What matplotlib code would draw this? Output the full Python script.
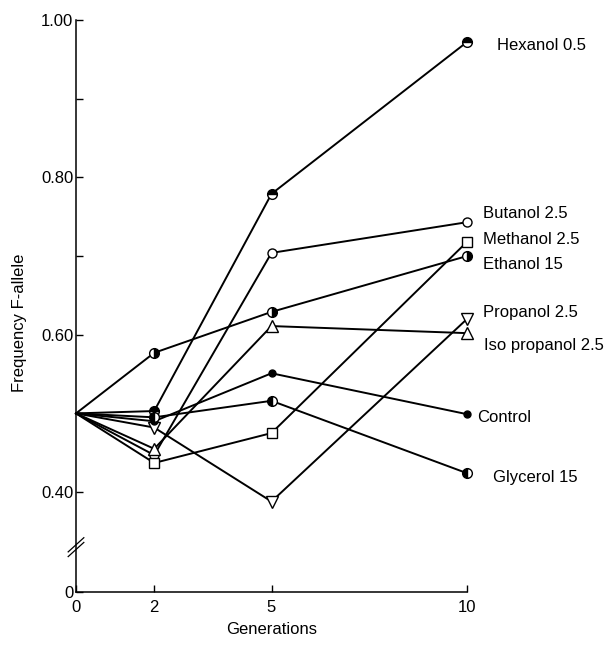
import matplotlib.pyplot as plt

plt.rcParams['font.family'] = ['Liberation Sans', 'DejaVu Sans']

generations = [0, 2, 5, 10]

hexanol = [0.50, 0.503, 0.779, 0.972]
butanol = [0.50, 0.447, 0.704, 0.743]
methanol = [0.50, 0.437, 0.475, 0.718]
ethanol = [0.50, 0.577, 0.629, 0.700]
propanol = [0.50, 0.482, 0.388, 0.620]
isopropanol = [0.50, 0.455, 0.611, 0.602]
control = [0.50, 0.490, 0.551, 0.499]
glycerol = [0.50, 0.495, 0.516, 0.424]

labels = ['Hexanol 0.5', 'Butanol 2.5', 'Methanol 2.5', 'Ethanol 15',
          'Propanol 2.5', 'Iso propanol 2.5', 'Control', 'Glycerol 15']

# marker, size, fillstyle, label offset in pixels
styles = [
    ('o', 7.0, 'top', (30, -3)),
    ('o', 6.5, 'none', (16, 9)),
    ('s', 6.5, 'none', (16, 2)),
    ('o', 7.0, 'right', (16, -8)),
    ('v', 8.0, 'none', (16, 6)),
    ('^', 8.0, 'none', (17, -12)),
    ('o', 5.0, 'full', (10, -3)),
    ('o', 7.0, 'left', (26, -4)),
]

series = [hexanol, butanol, methanol, ethanol, propanol, isopropanol, control, glycerol]

fig = plt.figure(figsize=(6.14, 6.49), dpi=100)
ax = fig.add_axes([76 / 614, 57 / 649, 391 / 614, 572 / 649])

for vals, lab, (mk, ms, fs, off) in zip(series, labels, styles):
    if fs == 'none':
        ax.plot(generations[1:], vals[1:], ls='none', marker=mk, ms=ms,
                mfc='white', mec='black', mew=1.0, zorder=3, clip_on=False)
    else:
        ax.plot(generations[1:], vals[1:], ls='none', marker=mk, ms=ms,
                fillstyle=fs, mfc='black', mfcalt='white', mec='black',
                mew=1.0, zorder=3, clip_on=False)
    ax.plot(generations, vals, color='black', lw=1.4, zorder=2, clip_on=False)
    ax.annotate(lab, (generations[-1], vals[-1]), xytext=off,
                textcoords='offset pixels', ha='left', va='center',
                fontsize=12, annotation_clip=False)

ax.set_xlim(0, 10)
ax.set_ylim(0.273, 1.0)
ax.spines['top'].set_visible(False)
ax.spines['right'].set_visible(False)
ax.spines['left'].set_linewidth(1.1)
ax.spines['bottom'].set_linewidth(1.1)

ax.set_xticks(generations)
ax.set_xticklabels(['0', '2', '5', '10'])
ax.set_yticks([0.273, 0.40, 0.60, 0.80, 1.00])
ax.set_yticklabels(['0', '0.40', '0.60', '0.80', '1.00'])
ax.set_yticks([0.50, 0.70, 0.90], minor=True)
ax.tick_params(axis='both', which='both', direction='in', length=5, width=1.0,
               labelsize=12)
ax.tick_params(axis='x', pad=6)
ax.tick_params(axis='y', pad=2)

# axis break marks
for dy in (0, 0.006):
    ax.plot([-0.2, 0.2], [0.318 + dy, 0.336 + dy], color='black', lw=0.9,
            clip_on=False, zorder=4)

ax.set_xlabel('Generations', fontsize=12, labelpad=5)
ax.set_ylabel('Frequency F-allele', fontsize=12)
ax.yaxis.set_label_coords(-0.125, 0.47)

fig.savefig('out.png', dpi=100)
